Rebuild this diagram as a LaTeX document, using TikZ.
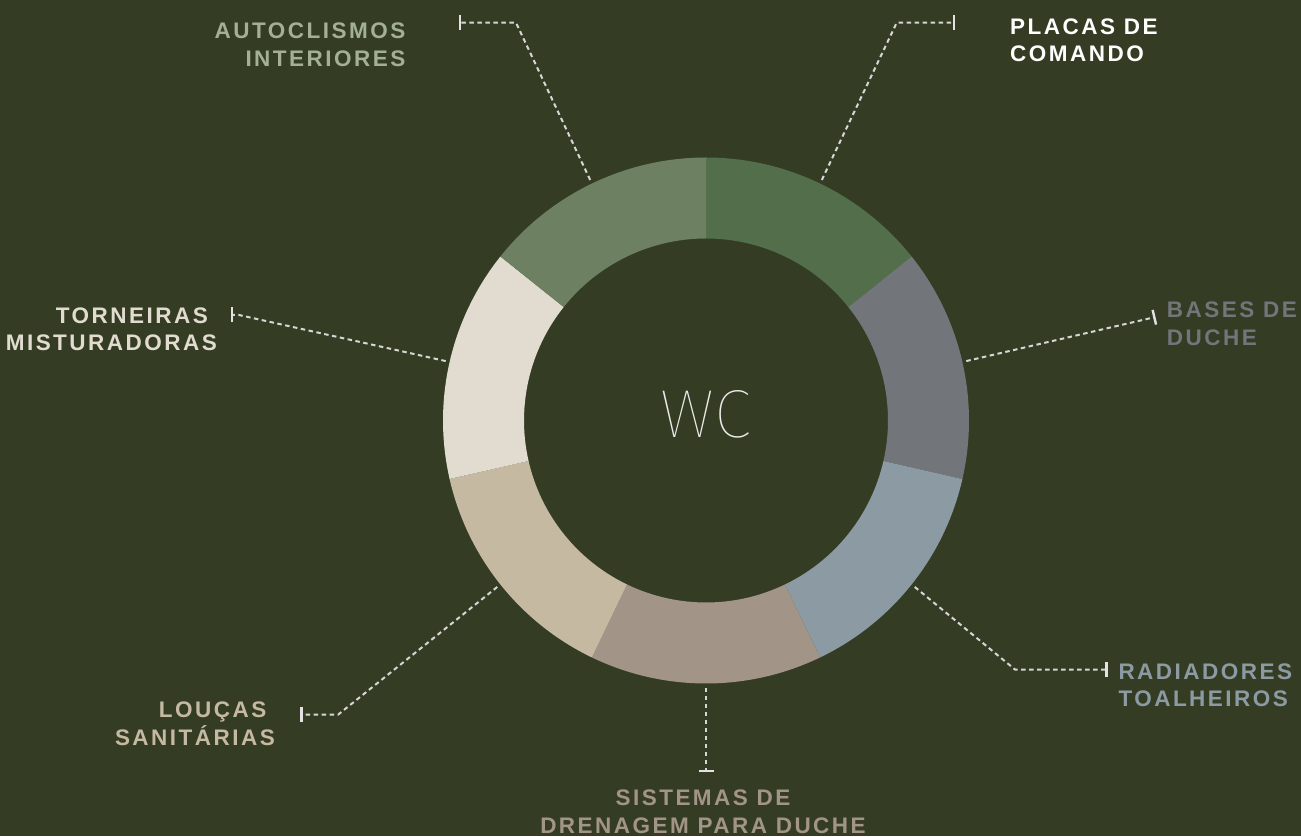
\documentclass[tikz,border=0pt]{standalone}
\usepackage{fontspec}
\setmainfont{Liberation Sans}
\newfontfamily\lblfont[LetterSpace=11]{Liberation Sans}
\newfontfamily\wcfont{Fira Sans Thin}
\usetikzlibrary{arrows.meta}

\definecolor{bg}{RGB}{52,61,36}
\definecolor{placas}{RGB}{82,110,74}
\definecolor{bases}{RGB}{114,117,122}
\definecolor{radiad}{RGB}{140,155,163}
\definecolor{sistemas}{RGB}{163,148,136}
\definecolor{loucas}{RGB}{197,185,161}
\definecolor{torneiras}{RGB}{226,219,208}
\definecolor{autocl}{RGB}{110,128,98}
\definecolor{autotxt}{RGB}{163,176,150}
\definecolor{leadgray}{RGB}{214,214,214}
\definecolor{tickgray}{RGB}{226,226,226}

\begin{document}
\begin{tikzpicture}[x=1pt,y=1pt]
\tikzstyle{lbl}=[font=\lblfont\bfseries\fontsize{22.5}{27.6}\selectfont, inner sep=0pt]
\tikzstyle{leader}=[draw=leadgray, line width=2pt, dash pattern=on 4.5pt off 3.5pt,
    -{Bar[width=15pt,line width=2.4pt,color=tickgray]}]

\fill[bg] (0,0) rectangle (1301,836);
\useasboundingbox (0,0) rectangle (1301,836);

\coordinate (c) at (706,415.5);

\begin{scope}[shift={(c)}]
\fill[placas] (90:263) arc (90:38.57:263) -- (38.57:182) arc (38.57:90:182) -- cycle;
\fill[bases] (38.57:263) arc (38.57:-12.86:263) -- (-12.86:182) arc (-12.86:38.57:182) -- cycle;
\fill[radiad] (-12.86:263) arc (-12.86:-64.29:263) -- (-64.29:182) arc (-64.29:-12.86:182) -- cycle;
\fill[sistemas] (-64.29:263) arc (-64.29:-115.71:263) -- (-115.71:182) arc (-115.71:-64.29:182) -- cycle;
\fill[loucas] (-115.71:263) arc (-115.71:-167.14:263) -- (-167.14:182) arc (-167.14:-115.71:182) -- cycle;
\fill[torneiras] (192.86:263) arc (192.86:141.43:263) -- (141.43:182) arc (141.43:192.86:182) -- cycle;
\fill[autocl] (141.43:263) arc (141.43:90:263) -- (90:182) arc (90:141.43:182) -- cycle;

\coordinate (pPlacas) at (64.29:267);
\coordinate (pBases) at (12.86:267);
\coordinate (pRadiad) at (-38.57:267);
\coordinate (pSistemas) at (-90:267);
\coordinate (pLoucas) at (-141.43:267);
\coordinate (pTorneiras) at (167.14:267);
\coordinate (pAutocl) at (115.71:267);
\end{scope}

\node[font=\wcfont\fontsize{68}{68}\selectfont, text=white!92!black, inner sep=0pt] (wc) at (705.5,421.5) {WC};

\coordinate (tAutocl) at (458.5,813.3);
\coordinate (bAutocl) at (516,813.3);
\coordinate (tPlacas) at (955.3,813.3);
\coordinate (bPlacas) at (896.7,813.3);
\coordinate (tBases) at (1155.5,519);
\coordinate (tRadiad) at (1107.5,166.5);
\coordinate (bRadiad) at (1015,166.5);
\coordinate (tSistemas) at (706,63.7);
\coordinate (tLoucas) at (300.3,121.5);
\coordinate (bLoucas) at (338.3,121.5);
\coordinate (tTorneiras) at (230.5,521);
\coordinate (bTorneiras) at (239,521);

\draw[leader] (pAutocl) -- (bAutocl) -- (tAutocl);
\draw[leader] (pPlacas) -- (bPlacas) -- (tPlacas);
\draw[leader] (pBases) -- (tBases);
\draw[leader] (pRadiad) -- (bRadiad) -- (tRadiad);
\draw[leader] (pSistemas) -- (tSistemas);
\draw[leader] (pLoucas) -- (bLoucas) -- (tLoucas);
\draw[leader] (pTorneiras) -- (bTorneiras) -- (tTorneiras);

\node[lbl, text=autotxt, align=right, anchor=north east] (autoclismos) at (405.5,813.3) {AUTOCLISMOS\\INTERIORES};
\node[lbl, text=white, align=left, anchor=north west] (placasLbl) at (1010,817.7) {PLACAS DE\\COMANDO};
\node[lbl, text=bases, align=left, anchor=north west] (basesLbl) at (1166.7,534.3) {BASES DE\\DUCHE};
\node[lbl, text=radiad, align=left, anchor=north west] (radiadLbl) at (1118.3,172.7) {RADIADORES\\TOALHEIROS};
\node[lbl, text=sistemas, align=center, anchor=north] (sistemasLbl) at (703,46) {SISTEMAS DE\\DRENAGEM PARA DUCHE};
\node[lbl, text=loucas, align=right, anchor=north east] (loucasLbl) at (275,134.3) {LOUÇAS\kern8.5pt\\SANITÁRIAS};
\node[lbl, text=torneiras, align=right, anchor=north east] (torneirasLbl) at (217,528.7) {TORNEIRAS\kern9pt\\MISTURADORAS};
\end{tikzpicture}
\end{document}
